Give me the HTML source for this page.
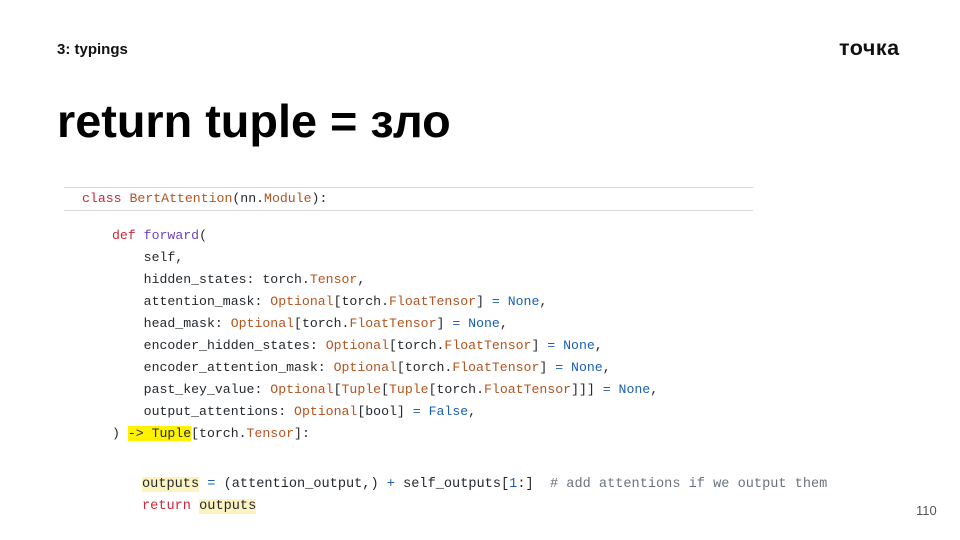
<!DOCTYPE html>
<html><head><meta charset="utf-8"><style>
body{margin:0;width:960px;height:540px;background:#fff;position:relative;overflow:hidden;font-family:"Liberation Sans",sans-serif}
.a{position:absolute}
.code{position:absolute;font-family:"Liberation Mono",monospace;font-size:13.2px;color:#24292e;white-space:pre;line-height:22px}
.k{color:#c8283c}.t{color:#b4541e}.f{color:#6f42c1}.b{color:#1a5fb4}
.hy{background:#fff200}.hl{background:#fdf3c0}
</style></head><body>
<div class="a" style="left:57px;top:41px;font-size:15px;font-weight:bold;color:#111">3: typings</div>
<div class="a" style="left:839px;top:36px;font-size:21.5px;font-weight:bold;color:#111;letter-spacing:0.5px">точка</div>
<div class="a" style="left:57px;top:94px;font-size:46.8px;font-weight:bold;color:#000">return tuple = зло</div>
<div class="a" style="left:64px;top:187px;width:689px;height:1px;background:#d8d8d8"></div>
<div class="a" style="left:64px;top:210px;width:689px;height:1px;background:#d8d8d8"></div>
<div class="code" style="left:82px;top:188px"><span class="k">class</span> <span class="t">BertAttention</span>(nn.<span class="t">Module</span>):</div>
<div class="code" style="left:112px;top:225px"><span class="k">def</span> <span class="f">forward</span>(
    self,
    hidden_states: torch.<span class="t">Tensor</span>,
    attention_mask: <span class="t">Optional</span>[torch.<span class="t">FloatTensor</span>] <span class="b">= None</span>,
    head_mask: <span class="t">Optional</span>[torch.<span class="t">FloatTensor</span>] <span class="b">= None</span>,
    encoder_hidden_states: <span class="t">Optional</span>[torch.<span class="t">FloatTensor</span>] <span class="b">= None</span>,
    encoder_attention_mask: <span class="t">Optional</span>[torch.<span class="t">FloatTensor</span>] <span class="b">= None</span>,
    past_key_value: <span class="t">Optional</span>[<span class="t">Tuple</span>[<span class="t">Tuple</span>[torch.<span class="t">FloatTensor</span>]]] <span class="b">= None</span>,
    output_attentions: <span class="t">Optional</span>[bool] <span class="b">= False</span>,
) <span class="hy">-&gt; Tuple</span>[torch.<span class="t">Tensor</span>]:</div>
<div class="code" style="left:142px;top:474px;font-size:13.6px"><span class="hl">outputs</span> <span class="b">=</span> (attention_output,) <span class="b">+</span> self_outputs[<span class="b">1</span>:]  <span style="color:#6a737d"># add attentions if we output them</span>
<span class="k">return</span> <span class="hl">outputs</span></div>
<div class="a" style="left:916px;top:503px;font-size:13px;color:#555">110</div>
</body></html>
